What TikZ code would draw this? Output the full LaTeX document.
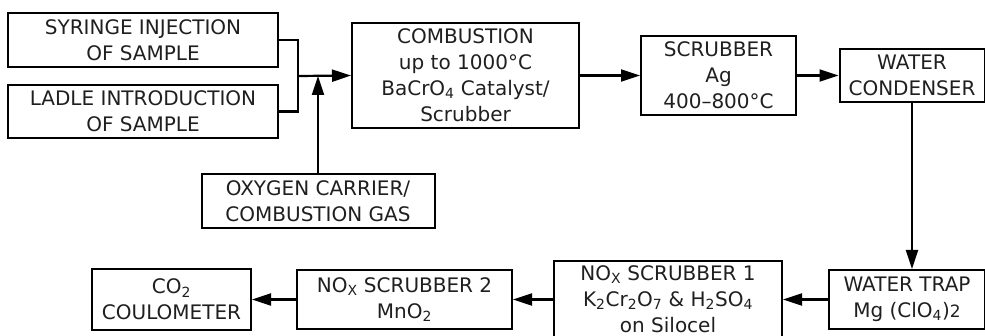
\documentclass[tikz,border=0pt]{standalone}
\usepackage{fontspec}
\setmainfont{DejaVu Sans}
\usetikzlibrary{arrows.meta,calc}
\newcommand\sbs[1]{\textsubscript{#1}}
\begin{document}
\begin{tikzpicture}[x=1pt,y=-1pt,
  box/.style={draw, line width=2pt, inner sep=0pt, align=center,
    font=\fontsize{20}{26}\selectfont, text=black!88},
  flow/.style={line width=2.2pt, -{Triangle[length=19pt,width=12pt]}},
  link/.style={line width=2.2pt}]
\useasboundingbox (0,0) rectangle (985,336);
\node[box, minimum width=270pt, minimum height=54pt] (syr) at (143,40) {SYRINGE INJECTION\\OF SAMPLE};
\node[box, minimum width=270pt, minimum height=53pt] (ladle) at (143,111.5) {LADLE INTRODUCTION\\OF SAMPLE};
\node[box, minimum width=233pt, minimum height=54pt] (oxy) at (318,201) {OXYGEN CARRIER/\\COMBUSTION GAS};
\node[box, minimum width=227pt, minimum height=105pt] (comb) at (465.5,75.5) {COMBUSTION\\up to 1000°C\\BaCrO\sbs{4} Catalyst/\\Scrubber};
\node[box, minimum width=155pt, minimum height=79pt] (scrub) at (718.5,75.5) {SCRUBBER\\Ag\\400–800°C};
\node[box, minimum width=145pt, minimum height=53pt] (cond) at (912,75.5) {WATER\\CONDENSER};
\node[box, minimum width=156pt, minimum height=59pt] (trap) at (907,299.5) {WATER TRAP\\Mg (ClO\sbs{4}){\fontsize{17}{26}\selectfont 2}};
\node[box, minimum width=228pt, minimum height=76pt] (nox1) at (668,299) {NO\sbs{X} SCRUBBER 1\\K\sbs{2}Cr\sbs{2}O\sbs{7} \& H\sbs{2}SO\sbs{4}\\on Silocel};
\node[box, minimum width=215pt, minimum height=59pt] (nox2) at (404.5,299.5) {NO\sbs{X} SCRUBBER 2\\MnO\sbs{2}};
\node[box, minimum width=159pt, minimum height=61pt] (co2) at (171.5,299.5) {CO\sbs{2}\\COULOMETER};
\coordinate (j) at (298,76);
\draw[link] (syr.east) -| (j);
\draw[link] (ladle.east) -| (j);
\draw[flow] (j) -- (comb.west);
\draw[flow] (oxy.north) -- (oxy.north |- j);
\draw[flow] (comb.east) -- (scrub.west);
\draw[flow] (scrub.east) -- (cond.west);
\draw[flow] (cond.south) -- (cond.south |- trap.north);
\draw[flow] (trap.west) -- (trap.west -| nox1.east);
\draw[flow] (nox2.east -| nox1.west) -- (nox2.east);
\draw[flow] (nox2.west) -- (co2.east);
\end{tikzpicture}
\end{document}
